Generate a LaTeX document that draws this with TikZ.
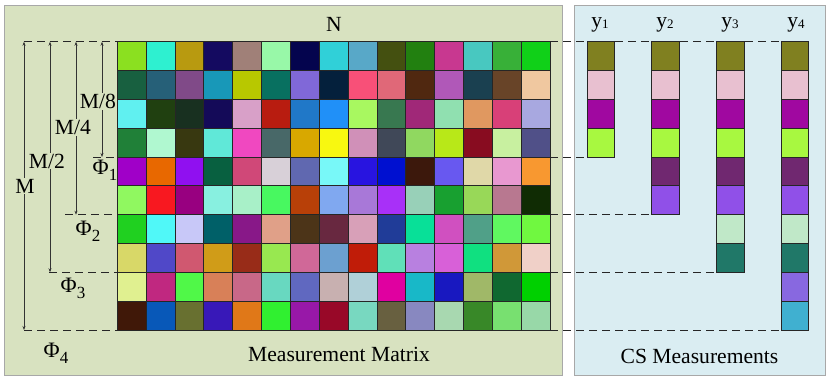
\documentclass[tikz,border=0pt]{standalone}
\usepackage{fontspec}
\setmainfont{Liberation Serif}
\usetikzlibrary{arrows.meta}
\definecolor{leftbg}{HTML}{D8E2C0}
\definecolor{rightbg}{HTML}{DAEDF2}
\definecolor{panelborder}{HTML}{A8A8A8}
\begin{document}
\begin{tikzpicture}[x=1pt,y=-1pt,
  panel/.style={draw=panelborder,line width=1pt},
  cell/.style={draw=black!85,line width=0.8pt},
  guideline/.style={draw=black!85,line width=0.9pt,dash pattern=on 8pt off 5pt},
  dimline/.style={draw=black!80,line width=0.6pt,{Stealth[length=4pt,width=3pt]}-{Stealth[length=4pt,width=3pt]}},
  lbl/.style={font=\fontsize{21.6}{24}\selectfont,inner sep=0pt},
  dimlbl/.style={lbl,fill=leftbg,inner sep=1pt},
  philbl/.style={font=\fontsize{22}{24}\selectfont,inner sep=0pt}]
\useasboundingbox (0,0) rectangle (831,382);
% panels
\draw[panel,fill=leftbg] (4,6) rectangle (562,376);
\draw[panel,fill=rightbg] (574.3,6) rectangle (825,376);
% matrix cells
\foreach \hex [count=\k from 0] in {%
8BE020,2EF0D0,B89A10,140A60,A08078,98F8A8,04044E,30D0D8,58A8C8,445010,228010,C83890,48C8C0,38B038,10D018,%
186040,266078,804A88,1898B8,B8C800,087060,8068D8,04203C,F85078,E06878,502810,B058B8,1A4050,684428,F0C8A0,%
60F0F0,204010,183020,140A58,D8A0C8,B81C10,2078C8,2090F8,A8F860,387850,A02878,90E0B0,E09860,D84078,A8A8E0,%
208038,B0F8D0,383810,60E8D8,F048C0,486868,D8A800,F8F810,D090B8,404858,90D860,B8E818,880C20,C8F0A0,505088,%
A000C8,E86800,9010F0,086040,D04878,D8D0D8,6068B0,78F8F8,2814E0,0010D0,3C180C,6858F0,E0D8A8,E898D0,F89830,%
90F860,F81820,980080,88F0E0,A8F0C8,48F860,B84008,80A8F0,A878D8,A830F8,98D0B8,18A030,98D858,B87890,102C04,%
20D020,50F8F8,C8C8F8,006068,881888,E0A088,4C3418,682840,D8A0B8,203C98,08E098,D050C0,50A088,60F860,70F840,%
D8D868,5048C8,D05870,D09C18,982C18,98E850,D06898,6CA0D0,C01C08,60E0B8,B880E0,D860D8,10E080,D09838,F0D0C8,%
E0F090,C02880,50F848,D88058,C86888,68D8C0,6068C0,C8B0B0,B0D0D8,E000A0,18B8C8,1818C0,A0B868,106830,00D000,%
401808,0858B8,687030,3818B8,E07818,30F030,9818A8,980828,78D8C0,686040,8888C0,A8D8B0,388828,78E070,98D8A8%
}{%
  \pgfmathtruncatemacro{\col}{mod(\k,15)}%
  \pgfmathtruncatemacro{\row}{int(\k/15)}%
  \definecolor{cc}{HTML}{\hex}%
  \draw[cell,fill=cc] (117.3+\col*28.847,41.7+\row*28.83) rectangle ++(28.847,28.83);
}
% CS measurement stacks
\foreach \xl/\n in {587.3/4,651.7/6,716.7/8,781.3/10}{%
  \foreach \hex [count=\j from 0] in {808020,E8C0D0,A008A0,A8F840,702870,9050E8,C0E8C8,207868,8868E0,40B0D0}{%
    \ifnum\j<\n\relax
      \definecolor{sc}{HTML}{\hex}%
      \draw[cell,fill=sc] (\xl,41.7+\j*28.83) rectangle ++(27.4,28.83);
    \fi
  }
}
% named coordinates
\coordinate (tl0) at (24,41.7);   \coordinate (tl1) at (117.3,41.7);
\coordinate (tr0) at (550,41.7);  \coordinate (tr1) at (808.7,41.7);
\coordinate (a0) at (93,157.0);   \coordinate (a1) at (117.3,157.0);
\coordinate (a2) at (550,157.0);  \coordinate (a3) at (587.3,157.0);
\coordinate (b0) at (65,214.7);   \coordinate (b1) at (117.3,214.7);
\coordinate (b2) at (550,214.7);  \coordinate (b3) at (651.7,214.7);
\coordinate (c0) at (49,272.3);   \coordinate (c1) at (117.3,272.3);
\coordinate (c2) at (550,272.3);  \coordinate (c3) at (716.7,272.3);
\coordinate (d0) at (24,330);     \coordinate (d1) at (117.3,330);
\coordinate (d2) at (550,330);    \coordinate (d3) at (781.3,330);
% dashed guides
\draw[guideline] (tl0) -- (tl1);
\draw[guideline] (tr0) -- (tr1);
\draw[guideline] (a0) -- (a1);  \draw[guideline] (a2) -- (a3);
\draw[guideline] (b0) -- (b1);  \draw[guideline] (b2) -- (b3);
\draw[guideline] (c0) -- (c1);  \draw[guideline] (c2) -- (c3);
\draw[guideline] (d0) -- (d1);  \draw[guideline] (d2) -- (d3);
% dimension arrows
\coordinate (m1t) at (24,41.7);  \coordinate (m1b) at (24,330);
\coordinate (m2t) at (50,41.7);  \coordinate (m2b) at (50,272.3);
\coordinate (m4t) at (76,41.7);  \coordinate (m4b) at (76,214.7);
\coordinate (m8t) at (102,41.7); \coordinate (m8b) at (102,157.0);
\draw[dimline] (m1t) -- (m1b);
\draw[dimline] (m2t) -- (m2b);
\draw[dimline] (m4t) -- (m4b);
\draw[dimline] (m8t) -- (m8b);
\node[dimlbl] (lM) at (25,186) {M};
\node[dimlbl] (lM2) at (47,161) {M/2};
\node[dimlbl] (lM4) at (73,127.7) {M/4};
\node[dimlbl] (lM8) at (98,101.7) {M/8};
% Phi labels
\node[philbl] (p1) at (105,170) {Φ\raisebox{-6pt}{\fontsize{17}{17}\selectfont 1}};
\node[philbl] (p2) at (88,231) {Φ\raisebox{-6pt}{\fontsize{17}{17}\selectfont 2}};
\node[philbl] (p3) at (73,288) {Φ\raisebox{-6pt}{\fontsize{17}{17}\selectfont 3}};
\node[philbl] (p4) at (56,353) {Φ\raisebox{-6pt}{\fontsize{17}{17}\selectfont 4}};
% titles
\node[lbl,anchor=base] (tN) at (334,32) {N};
\node[lbl,anchor=base] (tMM) at (339,362) {Measurement Matrix};
\node[lbl,anchor=base] (tCS) at (699.5,363) {CS Measurements};
\node[lbl,anchor=base] (y1) at (600,28) {y\raisebox{-0.5pt}{\fontsize{13}{13}\selectfont 1}};
\node[lbl,anchor=base] (y2) at (665,28) {y\raisebox{-0.5pt}{\fontsize{13}{13}\selectfont 2}};
\node[lbl,anchor=base] (y3) at (730,28) {y\raisebox{-0.5pt}{\fontsize{13}{13}\selectfont 3}};
\node[lbl,anchor=base] (y4) at (796,28) {y\raisebox{-0.5pt}{\fontsize{13}{13}\selectfont 4}};
\end{tikzpicture}
\end{document}
